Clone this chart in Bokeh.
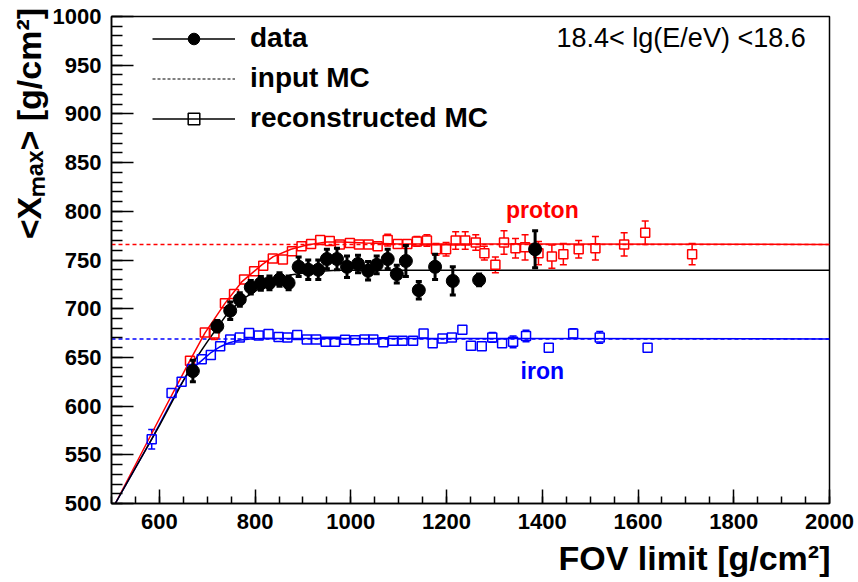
from bokeh.plotting import figure
from bokeh.models import (ColumnDataSource, Whisker, TeeHead, Span, Label,
                          Legend, LegendItem, FixedTicker, Range1d)
from bokeh.embed import file_html
from bokeh.resources import INLINE
import math

# ---------------- data ----------------
data_x = [670, 721, 748, 768, 791, 812, 830, 851, 870, 891, 911, 932, 950,
          971, 992, 1015, 1036, 1054, 1077, 1096, 1115, 1142, 1176, 1213, 1268, 1385]
data_y = [636, 682, 698, 709.5, 722, 726, 726.5, 730, 726.5, 743, 740, 740, 751,
          751, 743, 746, 739, 745, 751, 735.5, 749, 719, 743, 728.5, 729.5, 761]
data_err = [11, 6, 9, 7, 7, 7, 7, 7, 7, 10, 10, 10, 10,
            11, 11, 9, 9.5, 9, 10, 9, 16, 9, 13, 14.5, 6, 19]

proton_x = [664, 695, 715, 737, 756, 777, 798, 817, 837, 858, 877, 897, 917, 936, 956,
            977, 998, 1017, 1037, 1056, 1077, 1098, 1118, 1138, 1159, 1178, 1199, 1219,
            1239, 1261, 1279, 1302, 1320, 1344, 1364, 1392, 1420, 1444, 1476, 1511,
            1571, 1615, 1713]
proton_y = [646.5, 675.5, 674.5, 705.5, 715, 730, 738.5, 744, 751.5, 750.5, 759, 764,
            766.5, 770.5, 769.5, 766, 767.5, 766, 766, 764, 770.5, 766.5, 766.5, 769,
            770, 761, 761, 770, 770, 768, 757, 745, 768, 762, 763, 757, 753.5, 756,
            761, 762, 766, 778, 756]
proton_err = [3, 3, 6, 3, 3, 3, 3, 3, 3, 3, 3, 3, 3, 3, 3, 3, 3, 3, 3, 3,
              6, 3, 4, 5, 6, 6, 7, 9, 9, 8, 7, 8, 12, 10, 13, 12, 12, 11, 9, 12,
              12, 12, 11]

iron_x = [584, 625.5, 646.5, 668, 688.5, 707.5, 727, 748, 768, 787.5, 807.5, 828, 849,
          867.5, 888, 908, 927.5, 947.5, 967, 988, 1009, 1028.5, 1047, 1068, 1088, 1108,
          1130, 1152, 1171, 1191.5, 1211, 1233, 1251, 1273.5, 1295.5, 1316, 1339, 1366,
          1413.5, 1464.5, 1520, 1620]
iron_y = [566, 613.5, 625, 638, 648, 652.5, 661.5, 668.5, 670.5, 675, 672.5, 674, 671,
          670.5, 673, 668.5, 668.5, 666, 666, 668, 667.5, 668.5, 668.5, 665.5, 667, 667,
          667, 674.5, 664.5, 669.5, 670.5, 678.5, 662, 661.5, 670.5, 664.5, 666, 672,
          660, 674.5, 670.5, 660]
iron_err = [10, 3, 3, 3, 2, 2, 2, 2, 2, 2, 2, 2, 2,
            2, 2, 2, 2, 2, 2, 2, 2, 2, 2, 2, 2, 2,
            2, 3, 2, 2, 2, 3, 3, 3, 5, 3, 6, 6,
            2, 5, 6, 2]

# fitted curves
data_fit_x = [508, 600, 669, 700, 723, 745, 775, 800, 830, 873, 920, 970, 1050, 2000]
data_fit_y = [500, 580, 643.5, 666, 682, 697, 710, 718, 726, 734.5, 738, 739.5, 739.5, 739.5]
proton_fit_x = [508, 600, 664, 695, 737, 772, 814, 838, 875, 908, 950, 980, 1030, 1100, 2000]
proton_fit_y = [500, 587, 647, 675, 705.5, 727.5, 745, 753.5, 761, 765.5, 768.5, 768.5,
                767.5, 766.5, 766]
iron_fit_x = [508, 584, 640, 655, 670, 689, 708, 727, 746, 765, 790, 820, 2000]
iron_fit_y = [500, 566, 618.5, 630, 639, 647, 655, 661, 665, 667.5, 669, 669.5, 669]

proton_input = 766
iron_input = 669

x_ticks = [600, 800, 1000, 1200, 1400, 1600, 1800, 2000]
x_minor = list(range(500, 2001, 50))
y_ticks = list(range(500, 1001, 50))
y_minor = list(range(500, 1001, 10))

legend_labels = ["data", "input MC", "reconstructed MC"]
x_title = "FOV limit [g/cm\u00b2]"
y_title = "<X\u2098\u2090\u2093> [g/cm\u00b2]"
energy_text = "18.4< lg(E/eV) <18.6"

RED = "#ff0000"
BLUE = "#0000ff"
FONT = "Liberation Sans"
NAN = float("nan")

p = figure(width=858, height=582, x_range=Range1d(500, 2000), y_range=Range1d(500, 1000),
           output_backend="svg", toolbar_location=None,
           min_border_left=111, min_border_right=29, min_border_top=16, min_border_bottom=79)
p.xgrid.visible = False
p.ygrid.visible = False
p.outline_line_color = "black"
p.outline_line_width = 1.5
p.background_fill_color = "white"
p.border_fill_color = "white"

p.xaxis.ticker = FixedTicker(ticks=x_ticks, minor_ticks=x_minor)
p.yaxis.ticker = FixedTicker(ticks=y_ticks, minor_ticks=y_minor)
for ax, maj, mnr in [(p.xaxis[0], 14, 7), (p.yaxis[0], 22, 11)]:
    ax.major_tick_in = maj
    ax.major_tick_out = 0
    ax.minor_tick_in = mnr
    ax.minor_tick_out = 0
    ax.axis_line_width = 1.5
    ax.major_tick_line_width = 1.5
    ax.minor_tick_line_width = 1.5
    ax.major_label_text_font = FONT
    ax.major_label_text_font_style = "bold"
    ax.major_label_text_font_size = "22px"
    ax.major_label_text_color = "black"
    ax.major_label_standoff = 10

# input MC lines
for val, col in [(proton_input, RED), (iron_input, BLUE)]:
    p.add_layout(Span(location=val, dimension="width", line_color=col,
                      line_dash="4 3", line_width=1.5, level="underlay"))

# fit lines
r_pfit = p.line(proton_fit_x, proton_fit_y, line_color=RED, line_width=1.5)
r_ifit = p.line(iron_fit_x, iron_fit_y, line_color=BLUE, line_width=1.5)
r_dfit = p.line(data_fit_x, data_fit_y, line_color="black", line_width=1.5)

HALF = 4.6  # half marker height in data units (error bars start at marker edge)


def mc_errors(xs, ys, es, col):
    up = [(x, y, e) for x, y, e in zip(xs, ys, es) if e > HALF]
    src_u = ColumnDataSource(dict(x=[u[0] for u in up], lo=[u[1] + HALF for u in up],
                                  hi=[u[1] + u[2] for u in up]))
    src_l = ColumnDataSource(dict(x=[u[0] for u in up], lo=[u[1] - u[2] for u in up],
                                  hi=[u[1] - HALF for u in up]))
    p.add_layout(Whisker(base="x", lower="lo", upper="hi", source=src_u, dimension="height",
                         line_color=col, line_width=1.5, lower_head=None,
                         upper_head=TeeHead(size=7, line_color=col, line_width=1.5),
                         level="underlay"))
    p.add_layout(Whisker(base="x", lower="lo", upper="hi", source=src_l, dimension="height",
                         line_color=col, line_width=1.5, upper_head=None,
                         lower_head=TeeHead(size=7, line_color=col, line_width=1.5),
                         level="underlay"))


mc_errors(proton_x, proton_y, proton_err, RED)
mc_errors(iron_x, iron_y, iron_err, BLUE)

p.scatter(proton_x, proton_y, marker="square", size=9, line_color=RED, line_width=1.5,
          fill_alpha=0)
p.scatter(iron_x, iron_y, marker="square", size=9, line_color=BLUE, line_width=1.5,
          fill_alpha=0)

dsrc = ColumnDataSource(dict(x=data_x, lo=[y - e for y, e in zip(data_y, data_err)],
                             hi=[y + e for y, e in zip(data_y, data_err)]))
p.add_layout(Whisker(base="x", lower="lo", upper="hi", source=dsrc, dimension="height",
                     line_color="black", line_width=3, level="glyph",
                     upper_head=TeeHead(size=6, line_color="black", line_width=3),
                     lower_head=TeeHead(size=6, line_color="black", line_width=3)))
r_data = p.scatter(data_x, data_y, marker="circle", size=13, color="black")

# legend-only renderers (a single NaN point draws nothing in the plot)
r_dash = p.line(x=[NAN], y=[NAN], line_color="black", line_dash="3 2", line_width=1.2)
r_rl = p.line(x=[NAN], y=[NAN], line_color="black", line_width=1.5)
r_rs = p.scatter(x=[NAN], y=[NAN], marker="square", size=7, line_color="black",
                 line_width=1.5, fill_alpha=0)
legend = Legend(items=[LegendItem(label=legend_labels[0], renderers=[r_dfit, r_data]),
                       LegendItem(label=legend_labels[1], renderers=[r_dash]),
                       LegendItem(label=legend_labels[2], renderers=[r_rl, r_rs])],
                location=(41, 369), glyph_width=83, glyph_height=29, label_height=29,
                spacing=8, label_standoff=15, padding=0, margin=0,
                border_line_alpha=0, background_fill_alpha=0,
                label_text_font=FONT, label_text_font_style="bold",
                label_text_font_size="28px", label_text_color="black")
p.add_layout(legend)

# texts inside the frame
p.add_layout(Label(x=1690, y=978, text=energy_text, text_align="center",
                   text_baseline="alphabetic", text_font=FONT, text_font_size="27px",
                   text_color="black"))
p.add_layout(Label(x=1400, y=801, text="proton", text_align="center",
                   text_baseline="alphabetic", text_font=FONT, text_font_style="bold",
                   text_font_size="23px", text_color=RED))
p.add_layout(Label(x=1400, y=636, text="iron", text_align="center",
                   text_baseline="alphabetic", text_font=FONT, text_font_style="bold",
                   text_font_size="23px", text_color=BLUE))

# axis titles, placed in the side panels (not clipped), positioned in data units
p.add_layout(Label(x=2002, y=444.5, text=x_title, text_align="right",
                   text_baseline="alphabetic", text_font=FONT, text_font_style="bold",
                   text_font_size="34px", text_color="black"), "below")
p.add_layout(Label(x=327, y=890, text=y_title, text_align="center",
                   text_baseline="alphabetic", angle=math.pi / 2, text_font=FONT,
                   text_font_style="bold", text_font_size="34px", text_color="black"),
             "left")

open("out.html", "w").write(file_html(p, INLINE))
